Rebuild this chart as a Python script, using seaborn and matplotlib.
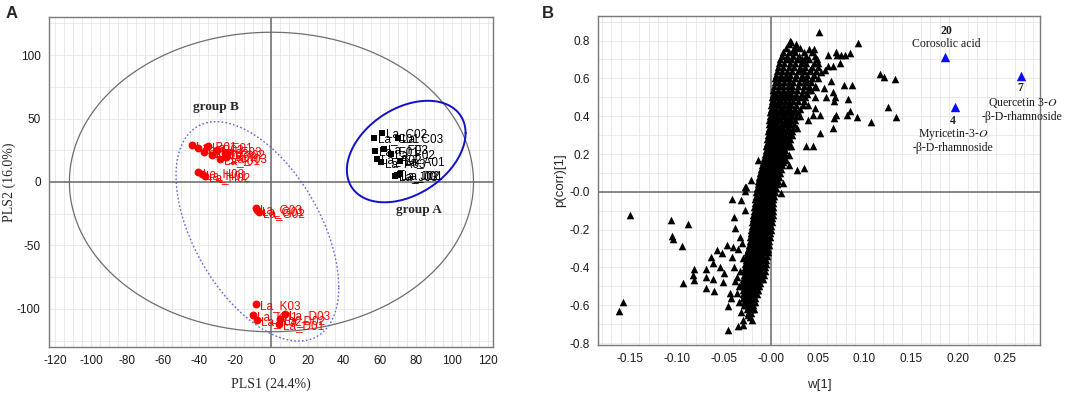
import numpy as np
import pandas as pd
import matplotlib
matplotlib.use("Agg")
import matplotlib.pyplot as plt
from matplotlib.ticker import MultipleLocator, FuncFormatter
import seaborn as sns

sns.set_style("white")
plt.rcParams["font.family"] = ["Liberation Sans", "DejaVu Sans"]
plt.rcParams["mathtext.fontset"] = "stix"

# ---- panel A : PLS-DA scores ----
grpB_x = [-44.0, -40.5, -37.5, -35.0, -33.0, -30.0, -28.5, -26.0, -25.0,
          -40.5, -37.0, -38.5, -8.5, -7.8, -7.0,
          -8.5, -10.5, -8.0, 7.5, 4.5, 4.0]
grpB_y = [29.5, 27.0, 23.5, 28.0, 21.0, 25.5, 18.5, 23.0, 20.0,
          7.5, 4.5, 6.0, -20.5, -22.0, -23.5,
          -96.5, -104.5, -108.5, -104.0, -108.0, -111.5]
grpB_lab = ["La_B01", "La_B02", "La_B03", "La_E01", "La_E02", "La_E03",
            "La_I01", "La_I02", "La_I03", "La_H03", "La_H02", "La_H01",
            "La_G03", "La_G01", "La_G02", "La_K03", "La_K01", "La_K02",
            "La_D03", "La_D02", "La_D01"]

grpA_x = [61.0, 57.0, 70.0, 57.5, 62.5, 66.0, 58.5, 60.5, 71.0, 68.5, 71.0, 69.5]
grpA_y = [39.0, 35.0, 35.0, 24.5, 26.0, 22.0, 18.0, 15.5, 16.5, 5.0, 6.0, 5.5]
grpA_lab = ["La_C02", "La_C01", "La_C03", "La_F01", "La_F03", "La_F02",
            "La_A02", "La_A03", "La_A01", "La_J03", "La_J01", "La_J02"]

# ellipses: centre x, centre y, half width, half height, phase (deg)
ell_cx = [0.0, 74.7, -7.8]
ell_cy = [0.0, 24.0, -38.9]
ell_rx = [112.0, 32.9, 45.1]
ell_ry = [118.0, 40.0, 86.4]
ell_ph = [90.0, 68.6, 120.5]

# ---- panel B : S-plot ----
core_p = [0.80, 0.78, 0.76, 0.74, 0.72, 0.70, 0.68, 0.66, 0.64, 0.62, 0.60, 0.58,
          0.56, 0.54, 0.52, 0.50, 0.48, 0.46, 0.44, 0.42, 0.40, 0.38, 0.36, 0.34,
          0.32, 0.30, 0.28, 0.26, 0.24, 0.22, 0.20, 0.18, 0.16, 0.14, 0.12, 0.10,
          0.08, 0.06, 0.04, 0.02, 0.00, -0.02, -0.04, -0.06, -0.08, -0.10, -0.12,
          -0.14, -0.16, -0.18, -0.20, -0.22, -0.24, -0.26, -0.28, -0.30, -0.32,
          -0.34, -0.36, -0.38, -0.40, -0.42, -0.44, -0.46, -0.48, -0.50, -0.52,
          -0.54, -0.56, -0.58, -0.60, -0.62, -0.64]
core_w = [
    [0.021],
    [0.019, 0.027],
    [0.016, 0.025, 0.031],
    [0.013, 0.020, 0.026, 0.035, 0.044],
    [0.012, 0.017, 0.024, 0.030, 0.038, 0.047],
    [0.010, 0.016, 0.022, 0.028, 0.033, 0.041, 0.049],
    [0.009, 0.014, 0.021, 0.026, 0.032, 0.038, 0.046],
    [0.008, 0.013, 0.019, 0.025, 0.031, 0.037, 0.044, 0.050],
    [0.007, 0.012, 0.017, 0.023, 0.029, 0.035, 0.042, 0.048],
    [0.006, 0.011, 0.016, 0.021, 0.027, 0.033, 0.039, 0.046],
    [0.005, 0.010, 0.015, 0.020, 0.026, 0.032, 0.038, 0.044, 0.050],
    [0.005, 0.009, 0.014, 0.019, 0.024, 0.030, 0.036, 0.043],
    [0.004, 0.009, 0.013, 0.018, 0.023, 0.029, 0.035, 0.041, 0.047],
    [0.003, 0.008, 0.013, 0.018, 0.023, 0.028, 0.034, 0.040],
    [0.002, 0.006, 0.010, 0.014, 0.018, 0.022, 0.027, 0.033, 0.039],
    [0.001, 0.005, 0.009, 0.012, 0.016, 0.021, 0.026, 0.031, 0.037],
    [0.001, 0.004, 0.008, 0.011, 0.015, 0.019, 0.024, 0.029, 0.036],
    [0.000, 0.004, 0.007, 0.010, 0.014, 0.018, 0.022, 0.027, 0.034],
    [0.000, 0.003, 0.006, 0.010, 0.013, 0.017, 0.021, 0.026, 0.031],
    [-0.001, 0.002, 0.006, 0.009, 0.013, 0.016, 0.020, 0.024, 0.029],
    [-0.001, 0.002, 0.005, 0.008, 0.012, 0.015, 0.019, 0.023, 0.027, 0.031],
    [-0.002, 0.001, 0.005, 0.008, 0.011, 0.015, 0.018, 0.022, 0.026],
    [-0.002, 0.001, 0.004, 0.007, 0.011, 0.014, 0.017, 0.021, 0.025],
    [-0.002, 0.001, 0.004, 0.007, 0.010, 0.013, 0.017, 0.020, 0.024, 0.028],
    [-0.003, 0.000, 0.003, 0.006, 0.009, 0.013, 0.016, 0.019, 0.023],
    [-0.003, 0.000, 0.003, 0.006, 0.009, 0.012, 0.015, 0.019, 0.023],
    [-0.004, -0.001, 0.002, 0.005, 0.008, 0.011, 0.014, 0.018, 0.021],
    [-0.004, -0.001, 0.002, 0.005, 0.008, 0.011, 0.014, 0.017],
    [-0.005, -0.002, 0.001, 0.004, 0.007, 0.010, 0.013, 0.016, 0.019],
    [-0.005, -0.002, 0.001, 0.004, 0.007, 0.010, 0.013, 0.015],
    [-0.006, -0.003, 0.000, 0.003, 0.006, 0.009, 0.012, 0.015],
    [-0.007, -0.004, -0.001, 0.002, 0.005, 0.008, 0.011, 0.014],
    [-0.008, -0.005, -0.002, 0.001, 0.004, 0.007, 0.010, 0.013],
    [-0.009, -0.006, -0.003, 0.000, 0.003, 0.006, 0.009, 0.012],
    [-0.010, -0.007, -0.004, -0.001, 0.002, 0.005, 0.008, 0.011],
    [-0.011, -0.008, -0.005, -0.002, 0.001, 0.004, 0.007, 0.010],
    [-0.012, -0.009, -0.006, -0.003, 0.000, 0.003, 0.006, 0.009],
    [-0.013, -0.010, -0.007, -0.004, -0.001, 0.002, 0.005, 0.008],
    [-0.014, -0.011, -0.008, -0.005, -0.002, 0.001, 0.004, 0.007],
    [-0.015, -0.012, -0.009, -0.006, -0.003, 0.000, 0.003, 0.006],
    [-0.016, -0.013, -0.010, -0.007, -0.004, -0.001, 0.002, 0.005],
    [-0.016, -0.013, -0.010, -0.007, -0.004, -0.001, 0.002, 0.004],
    [-0.017, -0.014, -0.011, -0.008, -0.005, -0.002, 0.001, 0.003],
    [-0.017, -0.014, -0.011, -0.008, -0.005, -0.002, 0.001, 0.003],
    [-0.018, -0.015, -0.012, -0.009, -0.006, -0.003, 0.000, 0.002],
    [-0.018, -0.015, -0.012, -0.009, -0.006, -0.003, 0.000, 0.002],
    [-0.019, -0.016, -0.013, -0.010, -0.007, -0.004, -0.001, 0.002],
    [-0.019, -0.016, -0.013, -0.010, -0.007, -0.004, -0.001, 0.001],
    [-0.020, -0.017, -0.014, -0.011, -0.008, -0.005, -0.002, 0.001],
    [-0.020, -0.017, -0.014, -0.011, -0.008, -0.005, -0.002, 0.000],
    [-0.021, -0.018, -0.015, -0.012, -0.009, -0.006, -0.003, 0.000],
    [-0.021, -0.018, -0.015, -0.012, -0.009, -0.006, -0.003, -0.001],
    [-0.022, -0.019, -0.016, -0.013, -0.010, -0.007, -0.004, -0.001],
    [-0.022, -0.019, -0.016, -0.013, -0.010, -0.007, -0.004, -0.002],
    [-0.023, -0.020, -0.017, -0.014, -0.011, -0.008, -0.005, -0.002],
    [-0.024, -0.021, -0.018, -0.015, -0.012, -0.009, -0.006, -0.003],
    [-0.025, -0.022, -0.019, -0.016, -0.013, -0.010, -0.007, -0.003],
    [-0.026, -0.023, -0.020, -0.017, -0.014, -0.011, -0.008, -0.004],
    [-0.026, -0.023, -0.020, -0.017, -0.014, -0.011, -0.008, -0.005],
    [-0.027, -0.024, -0.021, -0.018, -0.015, -0.012, -0.009, -0.005],
    [-0.027, -0.024, -0.021, -0.018, -0.015, -0.012, -0.009, -0.006],
    [-0.028, -0.025, -0.022, -0.019, -0.016, -0.013, -0.010, -0.006],
    [-0.028, -0.025, -0.022, -0.019, -0.016, -0.013, -0.010, -0.007],
    [-0.029, -0.026, -0.023, -0.020, -0.017, -0.014, -0.011, -0.008],
    [-0.029, -0.026, -0.023, -0.020, -0.017, -0.014, -0.011],
    [-0.030, -0.027, -0.024, -0.021, -0.018, -0.015, -0.012],
    [-0.030, -0.027, -0.024, -0.021, -0.018, -0.015, -0.013],
    [-0.030, -0.027, -0.024, -0.021, -0.018, -0.015],
    [-0.029, -0.026, -0.023, -0.020, -0.017],
    [-0.028, -0.025, -0.022, -0.019, -0.017],
    [-0.027, -0.024, -0.021, -0.019],
    [-0.025, -0.022, -0.020],
    [-0.024, -0.021],
]

left_w = [-0.162, -0.157, -0.150, -0.106, -0.105, -0.104, -0.088, -0.094, -0.093,
          -0.082, -0.082, -0.083, -0.069, -0.069, -0.069, -0.064, -0.061, -0.060,
          -0.061, -0.057, -0.052, -0.054, -0.050, -0.051, -0.047, -0.046, -0.045,
          -0.041, -0.040, -0.041, -0.039, -0.038, -0.043, -0.042, -0.036, -0.034,
          -0.032, -0.039, -0.038, -0.032, -0.030, -0.035, -0.024, -0.029, -0.027,
          -0.027, -0.027, -0.014, -0.021, -0.026, -0.033, -0.031, -0.035, -0.030,
          -0.033, -0.036, -0.031, -0.034, -0.030, -0.028, -0.020, -0.022, -0.018]
left_p = [-0.629, -0.585, -0.122, -0.148, -0.236, -0.248, -0.171, -0.289, -0.483,
          -0.409, -0.465, -0.440, -0.409, -0.451, -0.511, -0.347, -0.374, -0.522,
          -0.462, -0.310, -0.324, -0.400, -0.430, -0.479, -0.280, -0.606, -0.730,
          -0.039, -0.293, -0.345, -0.395, -0.469, -0.536, -0.562, -0.536, -0.580,
          -0.042, -0.134, -0.192, -0.633, -0.703, -0.712, -0.650, -0.677, -0.095,
          0.028, 0.002, 0.166, 0.063, 0.028, -0.240, -0.270, -0.300, -0.350,
          -0.420, -0.450, -0.480, -0.500, -0.560, -0.600, -0.680, -0.660, -0.620]

right_w = [0.052, 0.093, 0.022, 0.028, 0.024, 0.041, 0.046, 0.061, 0.070, 0.071,
           0.075, 0.079, 0.085, 0.074, 0.061, 0.066, 0.058, 0.054, 0.117, 0.121,
           0.132, 0.064, 0.057, 0.066, 0.078, 0.087, 0.059, 0.069, 0.082, 0.125,
           0.067, 0.070, 0.068, 0.085, 0.081, 0.092, 0.107, 0.134, 0.066, 0.053,
           0.053, 0.045, 0.045, 0.038, 0.035, 0.028, 0.040, 0.047, 0.040, 0.047,
           0.043, 0.048, 0.039, 0.050, 0.042, 0.036, 0.031, 0.019, 0.020, 0.022,
           0.018, 0.013, 0.011, 0.017, 0.016]
right_p = [0.848, 0.786, 0.795, 0.768, 0.751, 0.754, 0.754, 0.724, 0.742, 0.724,
           0.724, 0.724, 0.733, 0.684, 0.663, 0.663, 0.645, 0.636, 0.624, 0.610,
           0.596, 0.587, 0.548, 0.530, 0.566, 0.566, 0.499, 0.504, 0.492, 0.448,
           0.478, 0.407, 0.389, 0.428, 0.407, 0.395, 0.372, 0.398, 0.337, 0.407,
           0.310, 0.407, 0.243, 0.240, 0.125, 0.113, 0.381, 0.442, 0.460, 0.504,
           0.539, 0.557, 0.583, 0.680, 0.645, 0.698, 0.648, 0.143, 0.196, 0.240,
           0.257, 0.049, -0.004, 0.275, 0.166]

hl_w = [0.186, 0.196, 0.267]
hl_p = [0.712, 0.448, 0.613]

# ---- build frames ----
dfA_red = pd.DataFrame({"x": grpB_x, "y": grpB_y, "lab": grpB_lab})
dfA_blk = pd.DataFrame({"x": grpA_x, "y": grpA_y, "lab": grpA_lab})

core = pd.DataFrame([(w, p) for p, ws in zip(core_p, core_w) for w in ws],
                    columns=["w", "pcorr"])
spread = pd.DataFrame({"w": left_w + right_w, "pcorr": left_p + right_p})
dfB = pd.concat([core, spread], ignore_index=True)
dfH = pd.DataFrame({"w": hl_w, "pcorr": hl_p})

fig = plt.figure(figsize=(10.84, 3.95), dpi=100)
axA = fig.add_axes([49 / 1084, 48 / 395, 444 / 1084, 330 / 395])
axB = fig.add_axes([598 / 1084, 50 / 395, 442 / 1084, 329 / 395])

grid_c = "#e6e6e6"
spine_c = "#7a7a7a"
zero_c = "#6a6a6a"


def style_axes(ax):
    for s in ax.spines.values():
        s.set_color(spine_c)
        s.set_linewidth(1.0)
    ax.tick_params(which="major", direction="out", length=4, width=0.8,
                   color=spine_c, labelsize=8.5, labelcolor="#1a1a1a", pad=2)
    ax.tick_params(which="minor", length=0)
    ax.grid(True, which="both", color=grid_c, linewidth=0.6)
    ax.set_axisbelow(True)
    ax.axhline(0, color=zero_c, lw=1.1, zorder=1)
    ax.axvline(0, color=zero_c, lw=1.1, zorder=1)


# ---- panel A ----
t = np.linspace(0, 2 * np.pi, 300)
ell_style = [dict(color="#6e6e6e", lw=0.9, ls="-"),
             dict(color="#1010c8", lw=1.4, ls="-"),
             dict(color="#6060e0", lw=1.0, ls=(0, (1.2, 1.6)))]
for cx, cy, rx, ry, ph, st in zip(ell_cx, ell_cy, ell_rx, ell_ry, ell_ph, ell_style):
    axA.plot(cx + rx * np.cos(t), cy + ry * np.cos(t - np.radians(ph)), zorder=2, **st)

sns.scatterplot(data=dfA_red, x="x", y="y", marker="o", s=32, color="#ff0000",
                linewidth=0, ax=axA, zorder=3)
sns.scatterplot(data=dfA_blk, x="x", y="y", marker="s", s=24, color="black",
                linewidth=0, ax=axA, zorder=3)
for _, r in dfA_red.iterrows():
    axA.annotate(r["lab"], (r["x"], r["y"]), xytext=(3, -1.5), textcoords="offset points",
                 color="#ff0000", fontsize=8.5, va="center", zorder=4)
for _, r in dfA_blk.iterrows():
    axA.annotate(r["lab"], (r["x"], r["y"]), xytext=(3, -1), textcoords="offset points",
                 color="black", fontsize=8.5, va="center", zorder=4)

axA.text(-30.5, 59, "group B", family="Liberation Serif", weight="bold", fontsize=9.5,
         ha="center", va="center")
axA.text(81.5, -22, "group A", family="Liberation Serif", weight="bold", fontsize=9.5,
         ha="center", va="center")

axA.set_xlim(-123.3, 122.8)
axA.set_ylim(-130, 130)
axA.xaxis.set_major_locator(MultipleLocator(10))
axA.xaxis.set_minor_locator(MultipleLocator(5))
axA.yaxis.set_major_locator(MultipleLocator(25))
axA.xaxis.set_major_formatter(FuncFormatter(lambda v, _: f"{v:.0f}" if round(v) % 20 == 0 else ""))
axA.yaxis.set_major_formatter(FuncFormatter(lambda v, _: f"{v:.0f}" if round(v) % 50 == 0 else ""))
style_axes(axA)
axA.set_xlabel("PLS1 (24.4%)", family="Liberation Serif", fontsize=10, labelpad=7)
axA.set_ylabel("PLS2 (16.0%)", family="Liberation Serif", fontsize=10, labelpad=1)

# ---- panel B ----
sns.scatterplot(data=dfB, x="w", y="pcorr", marker="^", s=30, color="black",
                linewidth=0, ax=axB, zorder=3)
sns.scatterplot(data=dfH, x="w", y="pcorr", marker="^", s=46, color="#0a0aff",
                linewidth=0, ax=axB, zorder=3)

ann = dict(family="Liberation Serif", fontsize=8.5, ha="center", va="center",
           color="#1a1a1a")
axB.text(0.187, 0.853, "20", weight="bold", **ann)
axB.text(0.187, 0.78, "Corosolic acid", **ann)
axB.text(0.194, 0.377, "4", weight="bold", **ann)
axB.text(0.194, 0.301, "Myricetin-3-$\\mathit{O}$", **ann)
axB.text(0.194, 0.231, "-β-D-rhamnoside", **ann)
axB.text(0.266, 0.548, "7", weight="bold", **ann)
axB.text(0.268, 0.472, "Quercetin 3-$\\mathit{O}$", **ann)
axB.text(0.268, 0.398, "-β-D-rhamnoside", **ann)

axB.set_xlim(-0.184, 0.287)
axB.set_ylim(-0.81, 0.93)
axB.xaxis.set_major_locator(MultipleLocator(0.025))
axB.xaxis.set_minor_locator(MultipleLocator(0.01))
axB.yaxis.set_major_locator(MultipleLocator(0.1))


def fmt_bx(v, _):
    k = round(v / 0.025)
    if k % 2:
        return ""
    return "-0.00" if k == 0 else f"{v:.2f}"


def fmt_by(v, _):
    k = round(v / 0.1)
    if k % 2:
        return ""
    return "-0.0" if k == 0 else f"{v:.1f}"


axB.xaxis.set_major_formatter(FuncFormatter(fmt_bx))
axB.yaxis.set_major_formatter(FuncFormatter(fmt_by))
style_axes(axB)
axB.grid(False, which="major", axis="x")
axB.set_xlabel("w[1]", fontsize=9.5, labelpad=10)
axB.set_ylabel("p(corr)[1]", fontsize=9.5, labelpad=2)

fig.text(0.005, 0.955, "A", fontsize=12, weight="bold")
fig.text(0.5, 0.955, "B", fontsize=12, weight="bold")

fig.savefig("out.png", dpi=100)
